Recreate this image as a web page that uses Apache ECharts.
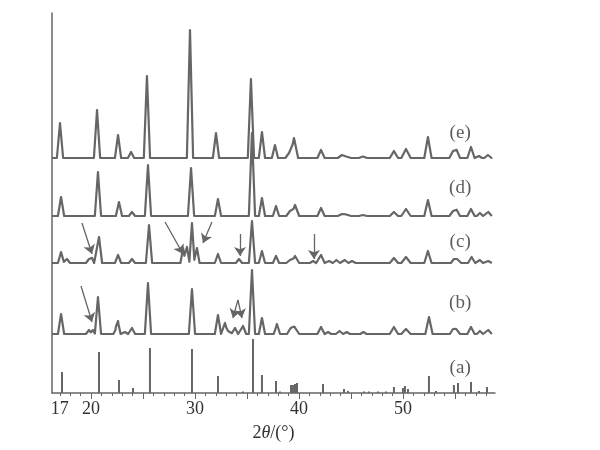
<!DOCTYPE html>
<html>
<head>
<meta charset="utf-8">
<script src="https://cdn.jsdelivr.net/npm/echarts@6/dist/echarts.min.js"></script>
<style>html,body{margin:0;padding:0;background:#fff}#c{width:600px;height:450px}</style>
</head>
<body>
<div id="c"></div>
<script>
// ---- data (2θ in degrees, intensity in plot units) ----
const xRange = [16.25, 58.85];
const tickLabels = [17, 20, 30, 40, 50];
const minorTicks = [17,18,19,20,21,22,23,24,25,26,27,28,29,30,31,32,33,34,35,36,37,38,39,40,41,42,43,44,45,46,47,48,49,50,51,52,53,54,55,56,57,58];
const majorTicks = [20, 25, 30, 35, 40, 45, 50, 55];

// baselines of stacked traces
const baseE = 235, baseD = 177, baseC = 130, baseB = 59;
// peaks: [2θ, height, halfWidth(optional)]
const peaksE = [[17.02,35],[20.58,48],[22.60,23],[23.85,6],[25.38,82],[29.52,128],[32.02,25],[35.38,79],[36.44,26],[37.69,13],[39.04,5,0.35],[39.52,20,0.4],[42.12,8,0.35],[44.13,3,0.4],[44.62,2,0.4],[46.15,1.5,0.4],[49.13,7,0.4],[50.29,9,0.45],[52.40,21,0.35],[54.81,7,0.35],[55.19,9,0.3],[56.54,11,0.35],[57.31,2,0.3],[58.17,3,0.35]];
const peaksD = [[17.12,19],[20.67,44],[22.69,14],[23.94,4],[25.48,51],[29.62,48],[32.21,17],[35.48,83],[36.44,18],[37.79,10],[39.13,5,0.35],[39.62,11,0.4],[42.12,8,0.35],[44.13,2,0.4],[44.62,2,0.4],[46.15,1,0.4],[49.13,4,0.4],[50.29,7,0.45],[52.40,16,0.35],[54.81,5,0.35],[55.19,7,0.3],[56.54,7,0.35],[57.4,3,0.3],[58.2,4,0.35]];
const peaksC = [[17.12,11],[17.69,4],[19.81,4],[20.1,5,0.2],[20.77,26],[22.6,8],[23.94,4],[25.58,38],[28.85,15,0.25],[29.23,16,0.25],[29.71,40,0.25],[30.19,15,0.25],[32.21,9],[34.23,4],[35.48,42],[36.44,12],[37.79,7],[39.13,3,0.35],[39.62,7,0.4],[41.35,2],[42.12,8,0.35],[42.9,2,0.35],[43.6,3,0.35],[44.4,3,0.35],[45.1,2,0.35],[49.13,5,0.4],[50.29,6,0.45],[52.4,12,0.35],[54.9,4,0.3],[55.3,6,0.3],[56.6,6,0.35],[57.4,3,0.3],[58.2,2,0.35]];
const peaksB = [[17.12,20],[19.81,4],[20.19,4,0.2],[20.67,37],[22.4,5,0.25],[22.6,12,0.25],[23.27,2],[23.94,6],[25.48,51],[29.71,45],[32.21,19],[32.88,11],[33.3,5],[33.85,6],[34.62,8],[35.48,64],[36.44,16],[37.88,10],[39.2,6,0.35],[39.62,9,0.4],[42.12,7,0.35],[42.8,2],[43.9,3,0.35],[44.6,2],[46.2,2],[49.13,7,0.4],[50.29,5,0.45],[52.5,17,0.35],[54.81,5,0.3],[55.19,7,0.3],[56.54,7,0.35],[57.4,3,0.3],[58.2,4,0.35]];
// reference stick pattern (a)
const sticksA = [[17.21,21],[20.77,41],[22.69,13],[24.04,5],[25.67,45],[29.71,44],[32.21,17],[34.62,1.5],[35.58,54],[36.44,18],[37.79,12],[38.17,1.5],[39.23,8],[39.42,8],[39.62,9],[39.81,10],[42.31,9],[44.33,4],[44.71,2],[46.25,1.5],[46.73,1.5],[47.6,1.5],[48.37,1.5],[49.13,6],[50.0,5],[50.19,7],[50.48,4],[52.5,17],[53.17,2],[54.9,8],[55.29,10],[56.54,11],[57.31,2],[58.08,6]];

const traceLabels = ['(e)','(d)','(c)','(b)','(a)'];
const labelPos = [[55.5,260],[55.5,205],[55.5,151],[55.5,90],[55.5,25]];

// arrows [[x0,y0],[x1,y1]]
const arrows = [
  [[19.13,170],[20.10,139]],
  [[27.12,171],[28.85,139]],
  [[31.63,171],[30.77,150]],
  [[34.33,159],[34.33,137]],
  [[41.44,159],[41.44,134]],
  [[19.04,107],[20.10,71]],
  [[34.13,93],[33.65,75]],
  [[34.13,93],[34.52,75]]
];

// ---- build trace polylines from peak lists ----
const DEFAULT_W = 0.3;
function profile(base, peaks) {
  const xs = new Set([xRange[0], 58.6]);
  peaks.forEach(p => { const w = p[2] || DEFAULT_W; xs.add(p[0]-w); xs.add(p[0]); xs.add(p[0]+w); });
  const sorted = [...xs].filter(x => x >= xRange[0] && x <= 58.6).sort((a,b)=>a-b);
  return sorted.map(x => {
    let y = base;
    peaks.forEach(p => { const w = p[2] || DEFAULT_W; y += Math.max(0, p[1]*(1-Math.abs(x-p[0])/w)); });
    return [x, y];
  });
}

const COL = '#666666';
const TXT = '#333333';
const FONT = '"Liberation Serif","DejaVu Serif",serif';
const lineSeries = (data) => ({
  type: 'line', data, showSymbol: false, symbol: 'none', smooth: false,
  lineStyle: { color: COL, width: 2.2, join: 'round' }, silent: true, animation: false, z: 3
});

const chart = echarts.init(document.getElementById('c'), null, { renderer: 'canvas' });
chart.setOption({
  backgroundColor: '#fff',
  animation: false,
  grid: { left: 52, right: 105, top: 13, bottom: 57, containLabel: false },
  xAxis: [{
    type: 'value', min: xRange[0], max: xRange[1], position: 'bottom',
    axisLine: { show: true, lineStyle: { color: COL, width: 1.5 } },
    axisTick: { show: true, customValues: minorTicks, length: 3, inside: false, lineStyle: { color: COL, width: 1 } },
    axisLabel: { show: true, customValues: tickLabels, margin: 7, color: TXT, fontSize: 18, fontFamily: FONT },
    splitLine: { show: false },
    name: '2{i|θ}/(°)', nameLocation: 'middle', nameGap: 31,
    nameTextStyle: { color: TXT, fontSize: 18, fontFamily: FONT,
      rich: { i: { fontStyle: 'italic', fontSize: 18, fontFamily: FONT, color: TXT } } }
  }, {
    type: 'value', min: xRange[0], max: xRange[1], position: 'bottom',
    axisLine: { show: false },
    axisTick: { show: true, customValues: majorTicks, length: 6, inside: false, lineStyle: { color: COL, width: 1 } },
    axisLabel: { show: false }, splitLine: { show: false }
  }],
  yAxis: {
    type: 'value', min: 0, max: 380,
    axisLine: { show: true, lineStyle: { color: COL, width: 1.5 } },
    axisTick: { show: false }, axisLabel: { show: false }, splitLine: { show: false }
  },
  series: [
    lineSeries(profile(baseE, peaksE)),
    lineSeries(profile(baseD, peaksD)),
    lineSeries(profile(baseC, peaksC)),
    lineSeries(profile(baseB, peaksB)),
    { type: 'bar', data: sticksA, barWidth: 2, itemStyle: { color: COL }, silent: true, animation: false, barGap: '-100%' },
    { type: 'scatter', data: labelPos.map((p,i) => [p[0], p[1], traceLabels[i]]), symbolSize: 0,
      label: { show: true, position: 'inside', formatter: p => p.value[2], color: TXT, fontSize: 19, fontFamily: FONT },
      silent: true, animation: false },
    { type: 'lines', coordinateSystem: 'cartesian2d', data: arrows.map(a => ({ coords: a })),
      symbol: ['none', 'arrow'], symbolSize: [6, 9],
      lineStyle: { color: COL, width: 1.3, opacity: 1 }, silent: true, animation: false, z: 5 }
  ]
});
</script>
</body>
</html>
